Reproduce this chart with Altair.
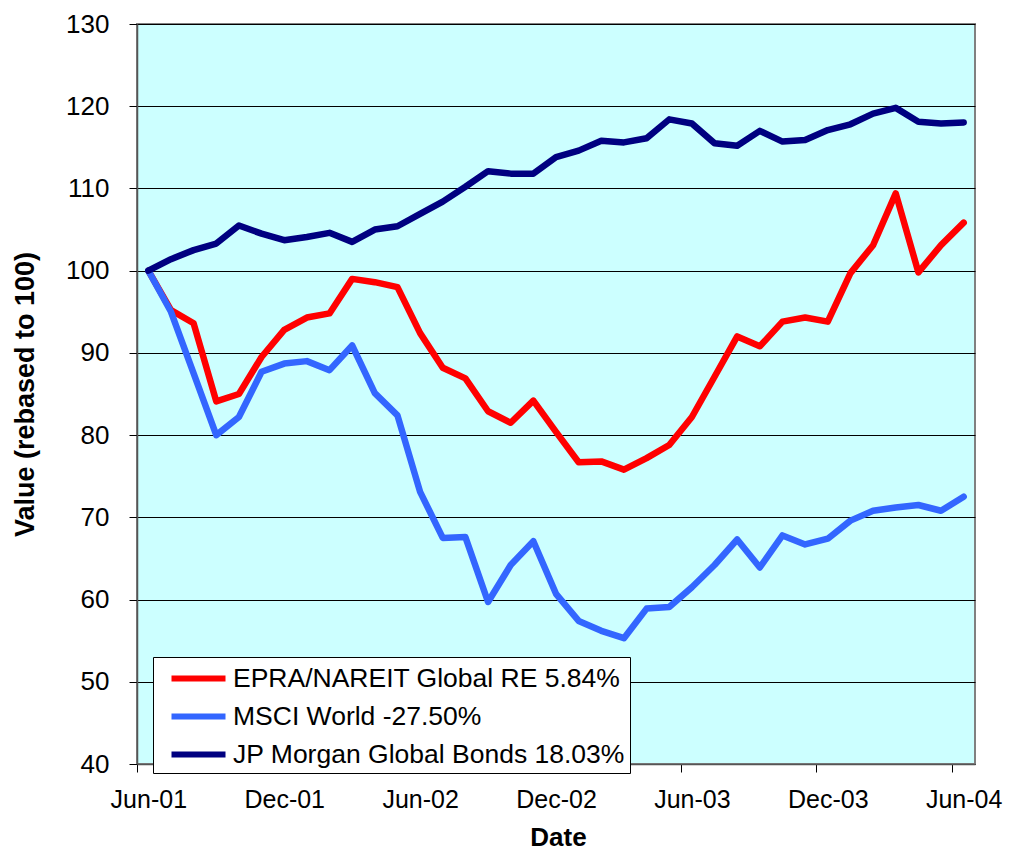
import altair as alt
import pandas as pd

tick_labels = ["Jun-01", "Dec-01", "Jun-02", "Dec-02", "Jun-03", "Dec-03", "Jun-04"]
series_names = [
    "EPRA/NAREIT Global RE 5.84%",
    "MSCI World -27.50%",
    "JP Morgan Global Bonds 18.03%",
]
series_colors = ["#FF0000", "#3366FF", "#000080"]

epra = [100.0, 95.2, 93.6, 84.1, 85.0, 89.5, 92.8, 94.3, 94.8, 99.0, 98.6, 98.0,
        92.4, 88.2, 86.9, 82.9, 81.5, 84.2, 80.4, 76.7, 76.8, 75.8, 77.2, 78.8,
        82.2, 87.1, 92.0, 90.8, 93.8, 94.3, 93.8, 99.7, 103.1, 109.4, 99.8, 103.1,
        105.84]
msci = [100.0, 95.0, 87.5, 80.0, 82.2, 87.7, 88.7, 89.0, 87.9, 90.9, 85.1, 82.4,
        73.1, 67.5, 67.6, 59.7, 64.2, 67.1, 60.7, 57.4, 56.2, 55.3, 58.9, 59.1,
        61.5, 64.2, 67.3, 63.9, 67.8, 66.7, 67.4, 69.6, 70.8, 71.2, 71.5, 70.8,
        72.5]
jpm = [100.0, 101.4, 102.5, 103.3, 105.5, 104.5, 103.7, 104.1, 104.6, 103.5, 105.0,
       105.4, 106.9, 108.4, 110.2, 112.1, 111.8, 111.8, 113.8, 114.6, 115.8, 115.6,
       116.1, 118.4, 117.9, 115.5, 115.2, 117.0, 115.7, 115.9, 117.1, 117.8, 119.1,
       119.8, 118.1, 117.9, 118.03]

rows = []
for name, vals in zip(series_names, [epra, msci, jpm]):
    for i, v in enumerate(vals):
        rows.append({"month": i, "value": v, "series": name})
df = pd.DataFrame(rows)

n = len(epra)
W, H = 838, 740
half = W / n / 2
label_js = "[" + ",".join("'%s'" % t for t in tick_labels) + "]"

x_axis = alt.Axis(
    values=list(range(0, n, 6)),
    labelExpr=label_js + "[round(datum.value/6)]",
    tickOffset=-half,
    labelOffset=half,
    tickSize=8,
    tickColor="#000000",
    domainColor="#555555",
    domainWidth=1.5,
    labelFontSize=25,
    labelColor="#000000",
    labelPadding=15,
    labelFlush=False,
    labelOverlap=False,
    grid=False,
    title="Date",
    titleFontSize=26,
    titleFontWeight="bold",
    titleColor="#000000",
    titleX=W / 2 + 2,
    titleY=81,
    titleAlign="center",
    titleBaseline="alphabetic",
)

y_axis = alt.Axis(
    values=list(range(40, 131, 10)),
    tickSize=8,
    tickColor="#000000",
    domainColor="#555555",
    domainWidth=1.5,
    labelFontSize=26,
    labelColor="#000000",
    labelPadding=20,
    grid=True,
    gridColor="#000000",
    gridWidth=1,
    title="Value (rebased to 100)",
    titleFontSize=27,
    titleFontWeight="bold",
    titleColor="#000000",
    titleAngle=270,
    titleX=-112,
    titleY=H / 2,
    titleAlign="center",
    titleBaseline="middle",
)

legend = alt.Legend(
    title=None,
    orient="none",
    legendX=16,
    legendY=633,
    fillColor="#FFFFFF",
    strokeColor="#000000",
    padding=5,
    symbolType="M-2,0H2",
    symbolStrokeWidth=6,
    symbolSize=729,
    symbolOffset=24,
    labelFontSize=26.5,
    labelColor="#000000",
    labelLimit=700,
    labelOffset=18,
    rowPadding=8,
)

chart = (
    alt.Chart(df)
    .mark_line(strokeWidth=6.5, strokeJoin="round", strokeCap="round")
    .encode(
        x=alt.X("month:Q", scale=alt.Scale(domain=[-0.5, n - 0.5], nice=False, zero=False), axis=x_axis),
        y=alt.Y("value:Q", scale=alt.Scale(domain=[40, 130], nice=False, zero=False), axis=y_axis),
        color=alt.Color("series:N", scale=alt.Scale(domain=series_names, range=series_colors),
                        sort=series_names, legend=legend),
    )
    .properties(
        width=W,
        height=H,
        autosize=alt.AutoSizeParams(type="none"),
        padding={"left": 129, "top": 16, "right": 28, "bottom": 88},
    )
    .configure(font="Liberation Sans")
    .configure_view(fill="#CCFFFF", stroke="#808080", strokeWidth=2)
)

chart.save("out.html", embed_options={"renderer": "svg", "actions": False})
